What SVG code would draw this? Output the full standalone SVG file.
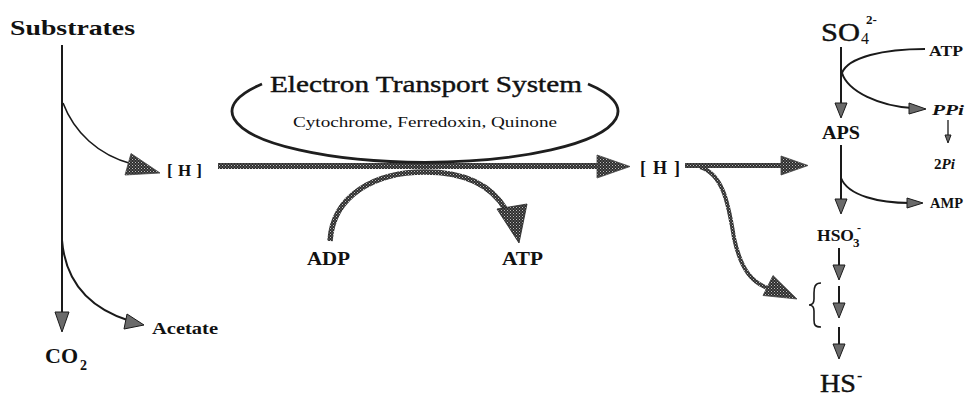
<svg xmlns="http://www.w3.org/2000/svg" width="972" height="396" viewBox="0 0 972 396">
<defs>
<pattern id="hatch" patternUnits="userSpaceOnUse" width="3" height="3">
<rect width="3" height="3" fill="#2e2e2e"/>
<rect x="0" y="0" width="1" height="1" fill="#bdbdbd"/>
<rect x="1.5" y="1.5" width="1" height="1" fill="#9a9a9a"/>
</pattern>
<style>
.t{font-family:"Liberation Serif","DejaVu Serif",serif;fill:#111}
.b{font-weight:bold}
.thin{fill:none;stroke:#1a1a1a;stroke-width:2}
.hl{fill:none;stroke:url(#hatch)}
.ah{fill:#6a6a6a;stroke:#1a1a1a;stroke-width:1;stroke-linejoin:round}
.hh{fill:url(#hatch);stroke:#444;stroke-width:0.8}
</style>
</defs>
<rect width="972" height="396" fill="#fff"/>

<g id="connectors">
  <line class="thin" x1="62" y1="45" x2="62" y2="314"/>
  <polygon class="ah" points="55,312 69,312 62,332"/>
  <path class="thin" d="M62 240 C66 290 98 311 130 321"/>
  <polygon class="ah" points="127,314 144,325 124,329"/>
  <path class="thin" style="stroke-width:1.6" d="M63 103 C74 132 98 155 132 164"/>
  <polygon class="hh" points="131,153.5 160,173 125,175"/>
  <line class="hl" x1="218" y1="166" x2="600" y2="166" stroke-width="6"/>
  <polygon class="hh" points="597,155 630,166.5 597,178"/>
  <path fill="none" stroke="#1e1e1e" stroke-width="2.8" d="M262 84 A193 51 0 1 0 588 84"/>
  <path fill="none" stroke="url(#hatch)" stroke-width="5.5" d="M330 241 C333 195 375 172 425 172 C465 172 492 186 506 210"/>
  <polygon class="hh" style="stroke:#222" points="497,209 527,204 519,243"/>
  <line class="hl" x1="685" y1="165.5" x2="784" y2="165.5" stroke-width="5"/>
  <polygon class="hh" points="781,156 808,165.5 781,175"/>
  <path class="hl" stroke-width="4" d="M700 167 C722 174 728 200 734 238 C741 270 752 283 770 289"/>
  <polygon class="hh" points="773,275.5 797,299 763,295.5"/>
  <line class="thin" x1="841" y1="47" x2="841" y2="105"/>
  <polygon class="ah" points="835,103 847,103 841,118"/>
  <path class="thin" d="M925 49 C884 49 848 57 842 73 C848 92 880 106 912 108"/>
  <polygon class="ah" points="909,103 926,109 909,114"/>
  <line class="thin" style="stroke-width:1.3" x1="948" y1="120" x2="948" y2="137"/>
  <polygon class="ah" points="945,135 951,135 948,143"/>
  <line class="thin" x1="841" y1="145" x2="841" y2="200"/>
  <polygon class="ah" points="835,199 847,199 841,214"/>
  <path class="thin" d="M841 178 C848 196 880 203 910 203"/>
  <polygon class="ah" points="907,198 923,203 907,208"/>
  <line class="thin" x1="839" y1="248" x2="839" y2="267"/>
  <polygon class="ah" points="833,265 845,265 839,280"/>
  <line class="thin" x1="839" y1="286" x2="839" y2="305"/>
  <polygon class="ah" points="833,303 845,303 839,318"/>
  <line class="thin" x1="839" y1="327" x2="839" y2="346"/>
  <polygon class="ah" points="833,344 845,344 839,359"/>
  <path fill="none" stroke="#1a1a1a" stroke-width="1.6" d="M821 283 C815 283 814 287 814 293 L814 299 C814 303 812 305 809 305 C812 305 814 307 814 311 L814 320 C814 325 815 327 821 327"/>
</g>

<g id="substrates"><text class="t b" x="10" y="35" font-size="22" textLength="125" lengthAdjust="spacingAndGlyphs">Substrates</text></g>
<g id="co2"><text class="t b" x="45" y="363" font-size="20" textLength="33" lengthAdjust="spacingAndGlyphs">CO</text><text class="t b" x="80" y="370" font-size="14">2</text></g>
<g id="acetate"><text class="t b" x="152" y="334" font-size="16" textLength="66" lengthAdjust="spacingAndGlyphs">Acetate</text></g>
<g id="h-left"><text class="t b" x="167" y="176" font-size="17" textLength="35" lengthAdjust="spacing">[ H ]</text></g>
<g id="ets">
  <text class="t" x="270" y="92" font-size="23" textLength="312" lengthAdjust="spacingAndGlyphs" stroke="#111" stroke-width="0.4">Electron Transport System</text>
  <text class="t" x="293" y="127" font-size="15" textLength="264" lengthAdjust="spacingAndGlyphs">Cytochrome, Ferredoxin, Quinone</text>
</g>
<g id="adp"><text class="t b" x="307" y="265" font-size="19" textLength="43" lengthAdjust="spacingAndGlyphs">ADP</text></g>
<g id="atp-mid"><text class="t b" x="502" y="265" font-size="19" textLength="41" lengthAdjust="spacingAndGlyphs">ATP</text></g>
<g id="h-right"><text class="t b" x="640" y="174" font-size="18" textLength="40" lengthAdjust="spacing">[ H ]</text></g>
<g id="so4"><text class="t" x="821" y="41" font-size="26" textLength="39" lengthAdjust="spacingAndGlyphs" stroke="#111" stroke-width="0.4">SO</text><text class="t" x="861" y="44" font-size="16">4</text><text class="t b" x="866" y="24" font-size="13">2-</text></g>
<g id="atp-right"><text class="t b" x="929" y="56" font-size="15" textLength="34" lengthAdjust="spacingAndGlyphs">ATP</text></g>
<g id="ppi"><text class="t b" x="932" y="115" font-size="15" font-style="italic" textLength="32" lengthAdjust="spacingAndGlyphs">PPi</text></g>
<g id="2pi"><text class="t b" x="934" y="169" font-size="15">2<tspan font-style="italic">Pi</tspan></text></g>
<g id="aps"><text class="t b" x="822" y="139" font-size="19" textLength="38" lengthAdjust="spacingAndGlyphs">APS</text></g>
<g id="amp"><text class="t b" x="930" y="208" font-size="14" textLength="33" lengthAdjust="spacingAndGlyphs">AMP</text></g>
<g id="hso3"><text class="t b" x="817" y="241" font-size="17" textLength="37" lengthAdjust="spacingAndGlyphs">HSO</text><text class="t b" x="853" y="247" font-size="13">3</text><text class="t b" x="857" y="232" font-size="12">-</text></g>
<g id="hs"><text class="t" x="820" y="392" font-size="25" textLength="36" lengthAdjust="spacingAndGlyphs" stroke="#111" stroke-width="0.4">HS</text><text class="t b" x="857" y="381" font-size="16">-</text></g>
</svg>
